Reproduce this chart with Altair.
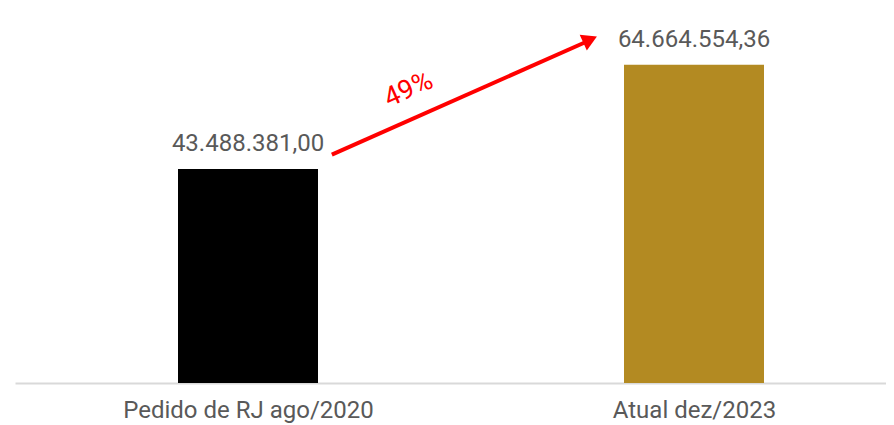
import altair as alt
import pandas as pd

categories = ["Pedido de RJ ago/2020", "Atual dez/2023"]
positions = [0, 1]
values = [43488381.00, 64664554.36]
value_labels = ["43.488.381,00", "64.664.554,36"]
bar_colors = ["#000000", "#B38A22"]

# arrow annotation (x in category units: 0 = first bar centre, 1 = second bar centre)
arrow_x = [0.188, 0.76]
arrow_y = [46.4e6, 69.4e6]
head_x = [0.767]
head_y = [69.8e6]
pct_label = ["49%"]
pct_x = [0.36]
pct_y = [59.6e6]

df = pd.DataFrame({"pos": positions, "cat": categories, "val": values,
                   "lab": value_labels, "col": bar_colors})
arrow_df = pd.DataFrame({"u": arrow_x, "v": arrow_y})
head_df = pd.DataFrame({"u": head_x, "v": head_y})
pct_df = pd.DataFrame({"u": pct_x, "v": pct_y, "t": pct_label})

label_expr = "datum.value == 0 ? '%s' : '%s'" % (categories[0], categories[1])

W = 871
yscale = alt.Scale(domain=[0, 76.2e6], nice=False, zero=True)
xscale = alt.Scale(domain=[-233 / 446, (W - 233) / 446], nice=False, zero=False, padding=0)

bars = alt.Chart(df).mark_bar(size=140).encode(
    x=alt.X("pos:Q", scale=xscale, title=None,
            axis=alt.Axis(values=positions, labelExpr=label_expr, labelAngle=0,
                          labelFont="Roboto", labelFontSize=24, labelColor="#595959",
                          labelPadding=15, labelLimit=0, ticks=False, grid=False,
                          domainColor="#D9D9D9", domainWidth=2)),
    y=alt.Y("val:Q", scale=yscale, axis=None),
    color=alt.Color("col:N", scale=None),
)

texts = alt.Chart(df).mark_text(baseline="bottom", dy=-13, font="Roboto", fontSize=24,
                                color="#595959").encode(
    x=alt.X("pos:Q"),
    y=alt.Y("val:Q"),
    text="lab:N",
)

arrow = alt.Chart(arrow_df).mark_line(color="#FF0000", strokeWidth=4).encode(
    x=alt.X("u:Q"),
    y=alt.Y("v:Q"),
)
head = alt.Chart(head_df).mark_point(shape="triangle-up", filled=True, color="#FF0000",
                                     size=300, angle=65.6, opacity=1).encode(
    x=alt.X("u:Q"),
    y=alt.Y("v:Q"),
)
pct = alt.Chart(pct_df).mark_text(color="#FF0000", font="Roboto", fontSize=27,
                                  angle=336).encode(
    x=alt.X("u:Q"),
    y=alt.Y("v:Q"),
    text="t:N",
)

chart = alt.layer(bars, texts, arrow, head, pct).properties(
    width=W, height=375,
    autosize=alt.AutoSizeParams(type="none"),
    padding={"left": 7, "top": 0, "right": 0, "bottom": 42},
).configure_view(stroke=None)

chart.save("out.html", embed_options={"renderer": "svg", "actions": False})
